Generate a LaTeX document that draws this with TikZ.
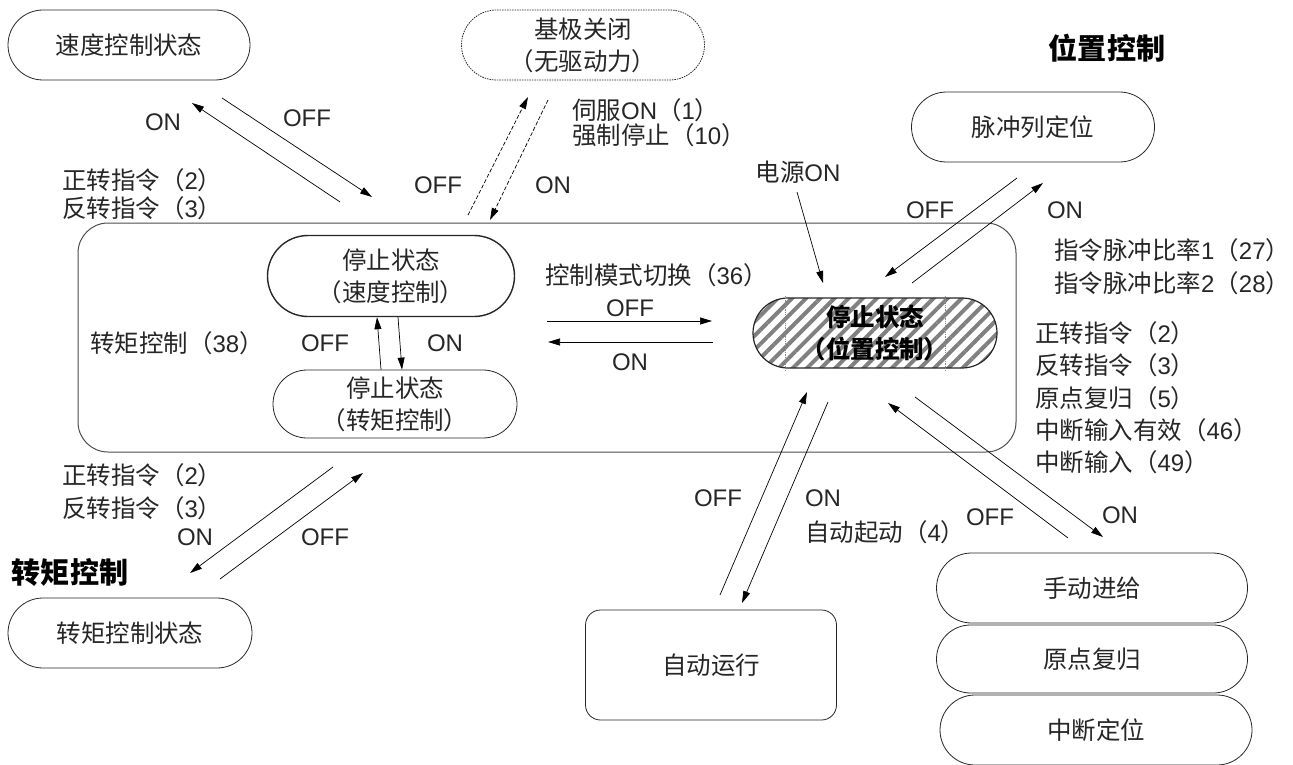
\documentclass[tikz,border=0pt]{standalone}
\usepackage{fontspec}
\setmainfont{Liberation Sans}
\newfontfamily\cjk[Scale=1.02]{Noto Sans CJK SC}
\usetikzlibrary{shapes.misc,arrows.meta,patterns.meta}
\newcommand\zh[1]{{\cjk #1}}
\tikzset{
  every node/.style={font=\fontsize{24}{32}\selectfont, inner sep=0pt, text=black!85},
  stadium/.style={draw=black!85, rounded rectangle, line width=0.8pt, align=center},
  lbl/.style={anchor=west},
  arr/.style={-{Triangle[length=12pt,width=7pt]}, line width=0.7pt},
  darr/.style={arr, dash pattern=on 4pt off 2pt},
  title/.style={font=\fontsize{28.5}{32}\selectfont\bfseries, text=black},
}
\begin{document}
\begin{tikzpicture}[x=1pt,y=-1pt]
\useasboundingbox (0,0) rectangle (1293,765);

% main frame
\node[draw=black!70, line width=1pt, rounded corners=30pt, minimum width=938pt, minimum height=229pt] (main) at (547,337.5) {};

% states
\node[stadium, minimum width=242pt, minimum height=70pt] (spd) at (129,45) {\zh{速度控制状态}};
\node[stadium, dash pattern=on 1.5pt off 1pt, minimum width=243pt, minimum height=70pt] (base) at (583,45) {\zh{基极关闭}\\\zh{（无驱动力）}};
\node[stadium, minimum width=243pt, minimum height=70pt] (pulse) at (1033,127) {\zh{脉冲列定位}};
\node[title] (tpos) at (1107,48) {\zh{位置控制}};
\node[stadium, line width=1.4pt, minimum width=247pt, minimum height=81pt] (stopspd) at (391,276) {\zh{停止状态}\\\zh{（速度控制）}};
\node[stadium, minimum width=244pt, minimum height=68pt] (stoptrq) at (395,404) {\zh{停止状态}\\\zh{（转矩控制）}};
\node[stadium, line width=1.2pt, pattern={Lines[angle=45,distance=10pt,line width=4pt]}, pattern color=black!50, minimum width=244pt, minimum height=70pt] (stoppos) at (875,333) {};
\draw[black!45, densely dotted, line width=0.8pt] ([xshift=-90pt]stoppos.north) -- ([xshift=-90pt]stoppos.south);
\draw[black!45, densely dotted, line width=0.8pt] ([xshift=70pt]stoppos.north) -- ([xshift=70pt]stoppos.south);
\node[align=center, font=\fontsize{24}{32}\selectfont\bfseries, text=black] (stopposT) at (stoppos) {\zh{停止状态}\\\zh{（位置控制）}};
\node[title] (ttrq) at (70,572) {\zh{转矩控制}};
\node[stadium, minimum width=244pt, minimum height=70pt] (trqst) at (130,633) {\zh{转矩控制状态}};
\node[draw=black!85, line width=0.8pt, rounded corners=15pt, minimum width=251pt, minimum height=110pt] (auto) at (711,665) {\zh{自动运行}};
\node[stadium, minimum width=311pt, minimum height=70pt] (man) at (1092,588) {\zh{手动进给}};
\node[stadium, minimum width=311pt, minimum height=68pt] (home) at (1092,659) {\zh{原点复归}};
\node[stadium, minimum width=312pt, minimum height=70pt] (intr) at (1096,730) {\zh{中断定位}};

% labels
\node (l1) at (163,122) {ON};
\node (l2) at (307,118) {OFF};
\node[lbl] (l3) at (62,180) {\zh{正转指令（}2\zh{）}};
\node[lbl] (l4) at (62,208) {\zh{反转指令（}3\zh{）}};
\node (l5) at (438,185) {OFF};
\node (l6) at (553,185) {ON};
\node[lbl] (l7) at (572,110) {\zh{伺服}ON\zh{（}1\zh{）}};
\node[lbl] (l8) at (572,135) {\zh{强制停止（}10\zh{）}};
\node (l9) at (798,172) {\zh{电源}ON};
\node (l10) at (930,210) {OFF};
\node (l11) at (1065,210) {ON};
\node[lbl] (l12) at (1054,250) {\zh{指令脉冲比率}1\zh{（}27\zh{）}};
\node[lbl] (l13) at (1054,283) {\zh{指令脉冲比率}2\zh{（}28\zh{）}};
\node[lbl] (l14) at (545,275) {\zh{控制模式切换（}36\zh{）}};
\node (l15) at (630,308) {OFF};
\node (l16) at (630,362) {ON};
\node[lbl] (l17) at (90,343) {\zh{转矩控制（}38\zh{）}};
\node (l18) at (325,343) {OFF};
\node (l19) at (445,343) {ON};
\node[lbl] (l20) at (1035,333) {\zh{正转指令（}2\zh{）}};
\node[lbl] (l21) at (1035,365) {\zh{反转指令（}3\zh{）}};
\node[lbl] (l22) at (1035,398) {\zh{原点复归（}5\zh{）}};
\node[lbl] (l23) at (1035,430) {\zh{中断输入有效（}46\zh{）}};
\node[lbl] (l24) at (1035,462) {\zh{中断输入（}49\zh{）}};
\node[lbl] (l25) at (62,475) {\zh{正转指令（}2\zh{）}};
\node[lbl] (l26) at (62,508) {\zh{反转指令（}3\zh{）}};
\node (l27) at (195,537) {ON};
\node (l28) at (325,537) {OFF};
\node (l29) at (718,498) {OFF};
\node (l30) at (823,498) {ON};
\node[lbl] (l31) at (805,532) {\zh{自动起动（}4\zh{）}};
\node (l32) at (990,517) {OFF};
\node (l33) at (1120,515) {ON};

% connector end points
\coordinate (a1s) at (340,202); \coordinate (a1e) at (192,103);
\coordinate (a2s) at (222,98);  \coordinate (a2e) at (372,197);
\coordinate (a3s) at (468,215); \coordinate (a3e) at (528,97);
\coordinate (a4s) at (548,100); \coordinate (a4e) at (490,220);
\coordinate (a5s) at (797,192); \coordinate (a5e) at (823,283);
\coordinate (a6s) at (1017,178); \coordinate (a6e) at (885,277);
\coordinate (a7s) at (912,283); \coordinate (a7e) at (1043,183);
\coordinate (a8s) at (547,321); \coordinate (a8e) at (712,321);
\coordinate (a9s) at (713,342); \coordinate (a9e) at (548,342);
\coordinate (a12s) at (333,467); \coordinate (a12e) at (190,573);
\coordinate (a13s) at (220,579); \coordinate (a13e) at (363,473);
\coordinate (a14s) at (720,595); \coordinate (a14e) at (807,392);
\coordinate (a15s) at (828,402); \coordinate (a15e) at (742,603);
\coordinate (a16s) at (1068,538); \coordinate (a16e) at (888,403);
\coordinate (a17s) at (915,397); \coordinate (a17e) at (1103,537);

\draw[arr] (a1s) -- (a1e);
\draw[arr] (a2s) -- (a2e);
\draw[darr] (a3s) -- (a3e);
\draw[darr] (a4s) -- (a4e);
\draw[arr] (a5s) -- (a5e);
\draw[arr] (a6s) -- (a6e);
\draw[arr] (a7s) -- (a7e);
\draw[arr] (a8s) -- (a8e);
\draw[arr] (a9s) -- (a9e);
\draw[arr] ([xshift=-14pt]stoptrq.north) -- ([xshift=-14pt]stopspd.south);
\draw[arr] ([xshift=7pt]stopspd.south) -- ([xshift=7pt]stoptrq.north);
\draw[arr] (a12s) -- (a12e);
\draw[arr] (a13s) -- (a13e);
\draw[arr] (a14s) -- (a14e);
\draw[arr] (a15s) -- (a15e);
\draw[arr] (a16s) -- (a16e);
\draw[arr] (a17s) -- (a17e);
\end{tikzpicture}
\end{document}
